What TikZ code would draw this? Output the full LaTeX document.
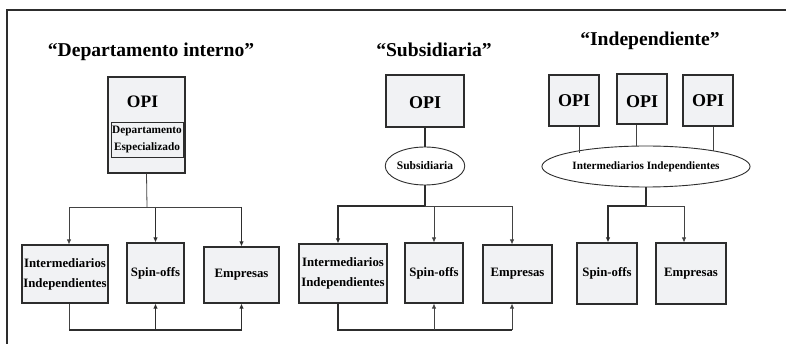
\documentclass[tikz,border=0pt]{standalone}
\usepackage{fontspec}
\setmainfont{Liberation Serif}
\usetikzlibrary{shapes.geometric,arrows.meta}
\definecolor{boxfill}{RGB}{241,242,244}
\definecolor{ink}{RGB}{45,45,45}
\begin{document}
\begin{tikzpicture}[x=1pt,y=-1pt,
  box/.style={draw=ink,line width=1.1pt,fill=boxfill,inner sep=0pt,align=center,
    font=\bfseries\fontsize{12.8}{20}\selectfont},
  opibox/.style={box,font=\bfseries\fontsize{18}{20}\selectfont},
  deptbox/.style={draw=ink,line width=0.8pt,fill=boxfill,inner sep=0pt,align=center,
    font=\bfseries\fontsize{11.3}{17}\selectfont},
  oval/.style={ellipse,draw=ink,line width=0.9pt,fill=white,inner sep=0pt,align=center},
  titletext/.style={font=\bfseries\fontsize{19.6}{24}\selectfont,anchor=base},
  thinline/.style={line width=0.8pt,draw=ink!90},
  thickline/.style={line width=1.2pt,draw=ink},
  arr/.style={-{Latex[length=5pt,width=4.5pt]}},
]
\useasboundingbox (0,0) rectangle (786,344);
\draw[line width=1.3pt,ink] (786,10) -- (7,10) -- (7,344);

% ---------- Panel 1 ----------
\node[titletext] (t1) at (151,57) {“Departamento interno”};
\node[box,minimum width=77pt,minimum height=96pt] (opi1) at (146.5,125) {};
\node[font=\bfseries\fontsize{17.5}{20}\selectfont,inner sep=0pt] (opilab1) at (142.5,102) {OPI};
\node[deptbox,minimum width=72pt,minimum height=35pt] (dept) at (147,139.5) {Departamento\\Especializado};
\node[box,minimum width=86pt,minimum height=58pt] (i1) at (65,274) {Intermediarios\\Independientes};
\node[box,minimum width=57pt,minimum height=60pt] (s1) at (155.5,273) {Spin-offs};
\node[box,minimum width=75pt,minimum height=56pt] (e1) at (241.5,275) {Empresas};
\coordinate (j1) at (147,207);
\coordinate (b1) at (155.5,330);
\coordinate (i1n) at ([xshift=4pt]i1.north);
\coordinate (i1s) at ([xshift=4pt]i1.south);
\draw[thinline] (opi1.south) -- (j1);
\draw[thinline,arr] (j1) -| (i1n);
\draw[thickline,arr] (j1 -| s1.north) -- (s1.north);
\draw[thinline] (j1) -- (j1 -| e1.north);
\draw[thickline,arr] (j1 -| e1.north) -- (e1.north);
\draw[thinline] (i1s) -- (i1s |- b1);
\draw[thickline] (i1s |- b1) -- (b1 -| e1.south);
\draw[thickline,arr] (b1) -- (s1.south);
\draw[thickline,arr] (b1 -| e1.south) -- (e1.south);

% ---------- Panel 2 ----------
\node[titletext] (t2) at (434,57) {“Subsidiaria”};
\node[opibox,minimum width=78pt,minimum height=52pt,text height=15pt,text depth=0pt] (opi2) at (425,101) {OPI};
\node[oval,minimum width=68pt,minimum height=38pt,font=\bfseries\fontsize{11.5}{14}\selectfont] (sub) at (425,166) {Subsidiaria};
\node[box,minimum width=88pt,minimum height=59pt] (i2) at (343,273.5) {Intermediarios\\Independientes};
\node[box,minimum width=58pt,minimum height=60pt] (s2) at (434,273) {Spin-offs};
\node[box,minimum width=69pt,minimum height=58pt] (e2) at (517.5,274) {Empresas};
\coordinate (j2) at (425,206);
\coordinate (b2) at (434,330);
\coordinate (i2n) at ([xshift=-5pt]i2.north);
\coordinate (i2s) at ([xshift=-5pt]i2.south);
\coordinate (e2n) at ([xshift=-5.5pt]e2.north);
\coordinate (e2s) at ([xshift=-5.5pt]e2.south);
\draw[thickline] (opi2.south) -- (sub.north);
\draw[thickline] (sub.south) -- (j2);
\draw[thickline,arr] (j2) -| (i2n);
\draw[thinline,arr] (j2) -| (s2.north);
\draw[thinline,arr] (j2) -| (e2n);
\draw[thickline] (i2s) -- (i2s |- b2) -- (b2 -| e2s);
\draw[thinline,arr] (b2) -- (s2.south);
\draw[thinline,arr] (b2 -| e2s) -- (e2s);

% ---------- Panel 3 ----------
\node[titletext] (t3) at (650,46) {“Independiente”};
\node[opibox,minimum width=50pt,minimum height=51pt] (oa) at (574,100.5) {OPI};
\node[opibox,minimum width=50pt,minimum height=50pt,text height=18pt,text depth=0pt] (ob) at (642,99) {OPI};
\node[opibox,minimum width=50pt,minimum height=51pt] (oc) at (708,100.5) {OPI};
\node[oval,minimum width=161pt,minimum height=41pt,font=\bfseries\fontsize{11.2}{14}\selectfont] (ii) at (646,166.5) {Intermediarios Independientes};
\node[box,minimum width=60pt,minimum height=61pt] (s3) at (607,273.5) {Spin-offs};
\node[box,minimum width=70pt,minimum height=61pt] (e3) at (691,273.5) {Empresas};
\coordinate (j3) at (646,206);
\coordinate (oas) at ([xshift=5pt]oa.south);
\coordinate (obs) at ([xshift=-6pt]ob.south);
\coordinate (ocs) at ([xshift=5pt]oc.south);
\coordinate (s3n) at ([xshift=1pt]s3.north);
\coordinate (e3n) at ([xshift=-7pt]e3.north);
\draw[thinline] (oas) -- (oas |- ii.170);
\draw[thinline] (obs) -- (obs |- ii.north);
\draw[thinline] (ocs) -- (ocs |- ii.12);
\draw[thickline] (ii.south) -- (j3);
\draw[thickline,arr] (j3) -| (s3n);
\draw[thinline,arr] (j3) -| (e3n);
\end{tikzpicture}
\end{document}
